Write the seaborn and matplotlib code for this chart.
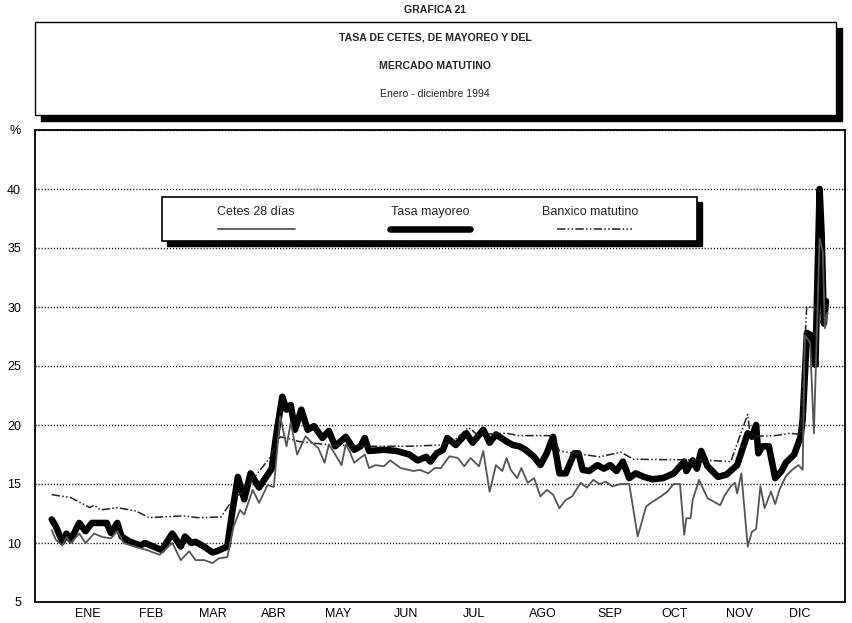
import numpy as np
import matplotlib
matplotlib.use("Agg")
import matplotlib.pyplot as plt
import seaborn as sns
from matplotlib.patches import Rectangle
from matplotlib.lines import Line2D
from matplotlib.ticker import FixedLocator, MultipleLocator

# --- datos (dia del anio 1994, tasa en %) ---
meses = ["ENE", "FEB", "MAR", "ABR", "MAY", "JUN", "JUL", "AGO", "SEP", "OCT", "NOV", "DIC"]
limites_mes = [0, 30, 60, 88, 118, 149, 182, 213, 247, 277, 308, 338, 365]

dias_mayoreo = [-2, 0, 3, 5, 7, 11, 14, 17, 24, 26, 29, 31, 35, 40, 42, 48, 50, 55, 59, 61,
                64, 66, 70, 74, 76, 81, 83, 86, 89, 92, 96, 102, 104, 107, 109, 111, 113, 116,
                119, 122, 126, 129, 132, 137, 141, 144, 146, 148, 155, 161, 167, 171, 175, 177,
                180, 183, 185, 189, 194, 197, 202, 205, 208, 213, 216, 219, 222, 226, 229, 232,
                235, 238, 241, 245, 247, 249, 252, 256, 259, 262, 265, 268, 271, 274, 278, 282,
                287, 292, 295, 297, 298, 301, 303, 305, 308, 313, 317, 322, 327, 329, 331, 332,
                334, 337, 340, 343, 345, 349, 352, 353, 355, 357, 359, 361, 362, 363, 364]
tasa_mayoreo = [12.0, 11.4, 10.1, 10.8, 10.25, 11.7, 11.0, 11.7, 11.7, 10.85, 11.7, 10.55, 10.1,
                9.8, 10.0, 9.55, 9.4, 10.8, 9.7, 10.55, 10.0, 10.1, 9.7, 9.2, 9.3, 9.7, 12.2,
                15.6, 13.7, 15.9, 14.7, 16.3, 19.0, 22.4, 21.3, 21.7, 19.6, 21.3, 19.6, 19.9,
                18.9, 19.5, 18.2, 19.0, 17.9, 18.2, 18.9, 17.8, 17.9, 17.8, 17.5, 17.0, 17.3,
                16.9, 17.6, 17.9, 18.9, 18.3, 19.3, 18.5, 19.6, 18.5, 19.2, 18.6, 18.3, 18.2,
                17.9, 17.3, 16.6, 17.6, 19.0, 15.9, 15.9, 17.6, 17.6, 16.2, 16.1, 16.6, 16.3,
                16.6, 16.1, 16.9, 15.5, 15.9, 15.6, 15.4, 15.5, 15.9, 16.5, 16.9, 16.1, 17.0,
                16.3, 17.8, 16.5, 15.6, 15.8, 16.6, 19.3, 19.0, 20.0, 17.6, 18.2, 18.2, 15.5,
                16.1, 16.8, 17.5, 19.0, 20.5, 27.8, 27.6, 25.1, 40.0, 36.0, 28.6, 30.5]

dias_cetes = [-2, 0, 3, 5, 7, 11, 14, 18, 22, 26, 29, 32, 37, 43, 49, 55, 59, 63, 66, 70, 74,
              77, 81, 84, 87, 89, 93, 96, 100, 103, 106, 109, 111, 114, 118, 121, 124, 127, 129,
              131, 135, 137, 139, 141, 143, 146, 148, 151, 155, 158, 163, 169, 172, 176, 179,
              182, 186, 190, 193, 196, 200, 202, 205, 208, 211, 213, 215, 218, 220, 223, 226,
              229, 232, 235, 238, 241, 244, 248, 251, 254, 257, 260, 263, 267, 271, 275, 279,
              282, 286, 289, 292, 295, 297, 298, 300, 301, 304, 308, 311, 314, 316, 319, 321,
              322, 324, 327, 329, 331, 333, 335, 338, 340, 342, 345, 348, 351, 353, 354, 356.5,
              358.3, 361, 362.5, 363.5, 364.6]
cetes_28 = [11.1, 10.25, 9.8, 10.5, 10.0, 10.8, 10.0, 10.8, 10.5, 10.4, 11.0, 10.0, 9.7, 9.4,
            9.0, 10.0, 8.55, 9.3, 8.55, 8.55, 8.3, 8.7, 8.8, 11.4, 12.8, 12.4, 14.5, 13.4, 14.9,
            14.75, 20.75, 18.2, 20.2, 17.5, 19.05, 18.5, 18.05, 16.8, 18.35, 17.8, 16.6, 18.35,
            17.7, 16.8, 17.1, 17.5, 16.35, 16.6, 16.5, 17.0, 16.35, 16.1, 16.2, 15.9, 16.35,
            16.35, 17.35, 17.2, 16.5, 17.2, 16.5, 17.8, 14.35, 16.6, 16.1, 17.2, 16.2, 15.5,
            16.35, 15.1, 15.5, 13.95, 14.5, 14.1, 12.95, 13.65, 13.95, 15.1, 14.7, 15.35, 15.0,
            15.2, 14.8, 15.0, 15.0, 10.55, 13.1, 13.5, 13.95, 14.35, 15.0, 15.0, 10.7, 12.1,
            12.1, 13.65, 15.35, 13.8, 13.5, 13.2, 14.0, 14.8, 15.1, 14.2, 15.9, 9.7, 10.95,
            11.2, 14.8, 12.95, 14.35, 13.3, 14.5, 15.65, 16.2, 16.6, 16.2, 27.6, 27.0, 19.3,
            35.8, 34.7, 28.2, 29.5]

dias_banxico = [-2, 7, 16, 18, 21, 29, 38, 44, 60, 67, 78, 84, 88, 101, 106, 111, 115, 130,
                148, 167, 182, 189, 195, 199, 213, 219, 235, 238, 257, 267, 273, 295, 304, 319,
                327, 328, 331, 340, 347, 352, 354.9, 359, 363.6, 365]
banxico_matutino = [14.1, 13.85, 13.0, 13.2, 12.8, 13.0, 12.7, 12.15, 12.3, 12.15, 12.2, 13.8,
                    14.25, 17.2, 19.0, 18.8, 18.6, 18.3, 18.2, 18.2, 18.3, 18.8, 19.8, 19.2,
                    19.3, 19.1, 19.1, 17.8, 17.3, 17.7, 17.1, 17.05, 17.05, 16.9, 20.9, 19.4,
                    19.05, 19.1, 19.3, 19.2, 30.0, 30.0, 29.0, 29.5]

sns.set_style("white")
plt.rcParams['font.family'] = ['Liberation Sans', 'DejaVu Sans']

W, H = 852, 623
fig = plt.figure(figsize=(W / 100, H / 100), dpi=100)


def fx(x):
    return x / W


def fy(y):
    return 1 - y / H


ax = fig.add_axes([fx(35), fy(602), 810 / W, 472 / H])

estilo_banxico = (0, (5.5, 1.5, 1, 1.5, 1, 1.5))

sns.lineplot(x=dias_mayoreo, y=tasa_mayoreo, ax=ax, color="black", linewidth=4.7,
             estimator=None, sort=False, solid_capstyle="round", solid_joinstyle="round",
             zorder=3)
sns.lineplot(x=dias_banxico, y=banxico_matutino, ax=ax, color="#222222", linewidth=1.1,
             estimator=None, sort=False, linestyle=estilo_banxico, zorder=4)
sns.lineplot(x=dias_cetes, y=cetes_28, ax=ax, color="#555555", linewidth=1.3,
             estimator=None, sort=False, zorder=5)

ax.set_xlim(-9.9, 373)
ax.set_ylim(5, 45)

# ejes y marcas
for s in ax.spines.values():
    s.set_color("black")
    s.set_linewidth(1.3)

ax.xaxis.set_major_locator(FixedLocator(limites_mes))
centros = [(limites_mes[i] + limites_mes[i + 1]) / 2 for i in range(12)]
ax.xaxis.set_minor_locator(FixedLocator(centros))
ax.set_xticklabels([], minor=False)
ax.set_xticklabels(meses, minor=True)
ax.tick_params(axis="x", which="major", direction="in", length=7, width=1.2, color="black")
ax.tick_params(axis="x", which="minor", length=0, labelsize=9, pad=4, labelcolor="black")

yt = [5, 10, 15, 20, 25, 30, 35, 40, 45]
ax.yaxis.set_major_locator(FixedLocator(yt))
ax.set_yticklabels(["5", "10", "15", "20", "25", "30", "35", "40", "%"])
ax.yaxis.set_minor_locator(MultipleLocator(2.5))
ax.tick_params(axis="y", which="both", direction="in", length=4.5, width=1.2, color="black",
               labelsize=9, pad=10, labelcolor="black")
ax.tick_params(axis="y", which="minor", labelleft=False)

ax.yaxis.grid(True, which="major", color="black", linewidth=1.0, linestyle=(0, (0.8, 1.4)))
ax.xaxis.grid(False)
ax.set_axisbelow(True)
ax.set_xlabel("")
ax.set_ylabel("")

# encabezado con caja sombreada
fig.text(fx(435), fy(10), "GRAFICA 21", ha="center", va="center", fontsize=7.6,
         fontweight="bold")
fig.add_artist(Rectangle((fx(41), fy(121)), (836 - 35) / W, (115 - 22) / H,
                         transform=fig.transFigure, facecolor="black", edgecolor="black",
                         zorder=1))
fig.add_artist(Rectangle((fx(35), fy(115)), (836 - 35) / W, (115 - 22) / H,
                         transform=fig.transFigure, facecolor="white", edgecolor="black",
                         linewidth=1.0, zorder=2))
fig.text(fx(435), fy(38), "TASA DE CETES, DE MAYOREO Y DEL", ha="center", va="center",
         fontsize=7.6, fontweight="bold", zorder=3)
fig.text(fx(435), fy(66), "MERCADO MATUTINO", ha="center", va="center", fontsize=7.6,
         fontweight="bold", zorder=3)
fig.text(fx(435), fy(94), "Enero - diciembre 1994", ha="center", va="center", fontsize=7.6,
         zorder=3)

# leyenda con caja sombreada
fig.add_artist(Rectangle((fx(167), fy(246)), (697 - 162) / W, (241 - 197) / H,
                         transform=fig.transFigure, facecolor="black", edgecolor="black",
                         zorder=10))
fig.add_artist(Rectangle((fx(162), fy(241)), (697 - 162) / W, (241 - 197) / H,
                         transform=fig.transFigure, facecolor="white", edgecolor="black",
                         linewidth=1.2, zorder=11))
items = [("Cetes 28 días", 256, 218, 295, dict(color="#555555", linewidth=1.3)),
         ("Tasa mayoreo", 430, 390, 470, dict(color="black", linewidth=4.7,
                                               solid_capstyle="round")),
         ("Banxico matutino", 590, 557, 632, dict(color="#222222", linewidth=1.1,
                                                   linestyle=estilo_banxico))]
for etiqueta, cx, x0, x1, kw in items:
    fig.text(fx(cx), fy(212), etiqueta, ha="center", va="center", fontsize=9, zorder=12)
    fig.add_artist(Line2D([fx(x0), fx(x1)], [fy(229), fy(229)], transform=fig.transFigure,
                          zorder=12, **kw))

fig.savefig("out.png", dpi=100)
